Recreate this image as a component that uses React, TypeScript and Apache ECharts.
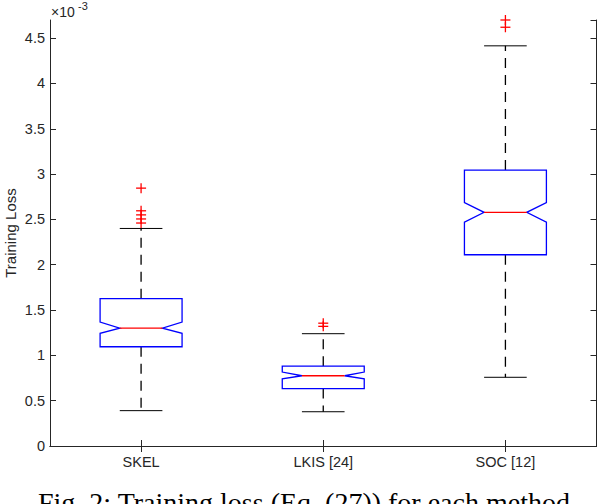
import React, { useEffect, useRef } from "react";
import * as echarts from "echarts";

const categories = ["SKEL", "LKIS [24]", "SOC [12]"];
const lowerWhisker = [0.39, 0.378, 0.758];
const q1 = [1.095, 0.634, 2.11];
const notchLow = [1.243, 0.742, 2.47];
const median = [1.3, 0.775, 2.578];
const notchHigh = [1.367, 0.816, 2.686];
const q3 = [1.625, 0.881, 3.044];
const upperWhisker = [2.4, 1.239, 4.415];
const outlierCategory = [0, 0, 0, 0, 0, 1, 1, 2, 2];
const outlierValue = [2.845, 2.595, 2.55, 2.505, 2.46, 1.355, 1.32, 4.7, 4.62];
const yTicks = { min: 0, max: 4.7, interval: 0.5 };

const AXIS_COLOR = "#262626";
const FONT = "Liberation Sans, Arial, Helvetica, sans-serif";

export default function App() {
  const ref = useRef<HTMLDivElement>(null);
  useEffect(() => {
    if (!ref.current) return;
    const chart = echarts.init(ref.current, null, { renderer: "svg" });
    const boxData = categories.map((_, i) => [i, median[i]]);
    const outData = outlierCategory.map((c, i) => [c, outlierValue[i]]);
    const valueAxisBase = {
      type: "value",
      min: yTicks.min,
      max: yTicks.max,
      interval: yTicks.interval,
      splitLine: { show: false },
      axisLine: { show: true, lineStyle: { color: AXIS_COLOR, width: 1 } },
      axisTick: { show: true, inside: true, length: 6, lineStyle: { color: AXIS_COLOR } },
    };
    const catAxisBase = {
      type: "category",
      data: categories,
      boundaryGap: true,
      axisLine: { show: true, lineStyle: { color: AXIS_COLOR, width: 1 } },
      axisTick: { show: true, inside: true, length: 6, alignWithLabel: true, lineStyle: { color: AXIS_COLOR } },
      splitLine: { show: false },
    };
    chart.setOption({
      animation: false,
      grid: {
        left: 50,
        right: 1.5,
        top: 20,
        bottom: 58,
        show: false,
        containLabel: false,
        outerBoundsMode: "none",
      },
      xAxis: [
        {
          ...catAxisBase,
          position: "bottom",
          axisLabel: { color: AXIS_COLOR, fontSize: 14.5, fontFamily: FONT, margin: 8 },
        },
        {
          ...catAxisBase,
          position: "top",
          axisLabel: { show: false },
        },
      ],
      yAxis: [
        {
          ...valueAxisBase,
          position: "left",
          axisLabel: {
            color: AXIS_COLOR,
            fontSize: 14.5,
            fontFamily: FONT,
            margin: 5,
            showMaxLabel: false,
            formatter: (v: number) => String(Number(v.toFixed(1))),
          },
        },
        {
          ...valueAxisBase,
          position: "right",
          axisLabel: { show: false },
        },
      ],
      graphic: [
        {
          type: "text",
          x: 10,
          y: 233,
          rotation: Math.PI / 2,
          style: {
            text: "Training Loss",
            fill: AXIS_COLOR,
            font: `15px ${FONT}`,
            align: "center",
            verticalAlign: "middle",
          },
        },
        {
          type: "text",
          left: 51,
          top: 5,
          style: { text: "×10", fill: AXIS_COLOR, font: `14px ${FONT}` },
        },
        {
          type: "text",
          left: 78,
          top: 0,
          style: { text: "-3", fill: AXIS_COLOR, font: `11px ${FONT}` },
        },
        {
          type: "text",
          x: 38,
          y: 488,
          style: {
            text: "Fig. 2: Training loss (Eq. (27)) for each method.",
            fill: "#000",
            font: "28px Liberation Serif, Times New Roman, serif",
            align: "left",
            verticalAlign: "top",
          },
        },
      ],
      series: [
        {
          type: "custom",
          xAxisIndex: 0,
          yAxisIndex: 0,
          clip: false,
          data: boxData,
          encode: { x: 0, y: 1 },
          renderItem: (params: any, api: any) => {
            const i = api.value(0);
            const cx = api.coord([i, median[i]])[0];
            const band = api.size([1, 0])[0];
            const halfBox = band * 0.225;
            const halfNotch = halfBox * 0.52;
            const L = cx - halfBox;
            const R = cx + halfBox;
            const y = (v: number) => api.coord([i, v])[1];
            const yq1 = y(q1[i]);
            const yq3 = y(q3[i]);
            const ynl = y(notchLow[i]);
            const ynh = y(notchHigh[i]);
            const ym = y(median[i]);
            const ylw = y(lowerWhisker[i]);
            const yuw = y(upperWhisker[i]);
            const dash = { stroke: "#000", lineWidth: 1.3, lineDash: [10, 7], fill: "none" };
            const solid = { stroke: "#000", lineWidth: 1, fill: "none" };
            return {
              type: "group",
              children: [
                { type: "line", shape: { x1: cx, y1: yq3, x2: cx, y2: yuw }, style: dash },
                { type: "line", shape: { x1: cx, y1: yq1, x2: cx, y2: ylw }, style: dash },
                { type: "line", shape: { x1: cx - halfNotch, y1: yuw, x2: cx + halfNotch, y2: yuw }, style: solid },
                { type: "line", shape: { x1: cx - halfNotch, y1: ylw, x2: cx + halfNotch, y2: ylw }, style: solid },
                {
                  type: "polygon",
                  shape: {
                    points: [
                      [L, yq3],
                      [R, yq3],
                      [R, ynh],
                      [cx + halfNotch, ym],
                      [R, ynl],
                      [R, yq1],
                      [L, yq1],
                      [L, ynl],
                      [cx - halfNotch, ym],
                      [L, ynh],
                    ],
                  },
                  style: { stroke: "#0000ff", lineWidth: 1.3, fill: "#fff" },
                },
                {
                  type: "line",
                  shape: { x1: cx - halfNotch, y1: ym, x2: cx + halfNotch, y2: ym },
                  style: { stroke: "#ff0000", lineWidth: 1.3 },
                },
              ],
            };
          },
        },
        {
          type: "custom",
          xAxisIndex: 0,
          yAxisIndex: 0,
          clip: false,
          data: outData,
          encode: { x: 0, y: 1 },
          renderItem: (params: any, api: any) => {
            const p = api.coord([api.value(0), api.value(1)]);
            const s = 5;
            const st = { stroke: "#ff0000", lineWidth: 1.3 };
            return {
              type: "group",
              children: [
                { type: "line", shape: { x1: p[0] - s, y1: p[1], x2: p[0] + s, y2: p[1] }, style: st },
                { type: "line", shape: { x1: p[0], y1: p[1] - s, x2: p[0], y2: p[1] + s }, style: st },
              ],
            };
          },
        },
      ],
    });
    return () => chart.dispose();
  }, []);
  return (
    <div
      ref={ref}
      style={{ position: "absolute", left: 0, top: 0, width: 598, height: 504, background: "#fff" }}
    />
  );
}
